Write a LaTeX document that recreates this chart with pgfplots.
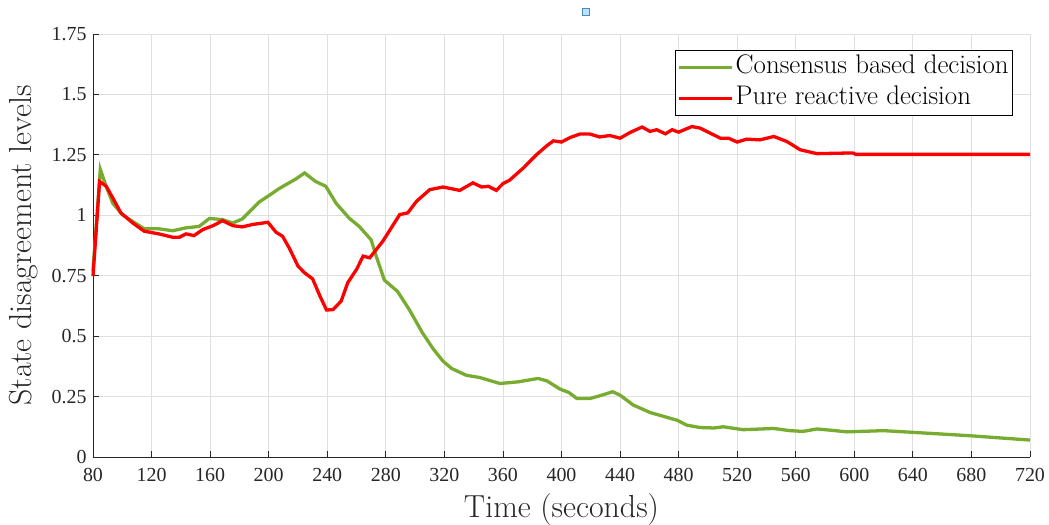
\documentclass[border=0pt]{standalone}
\usepackage{fontspec}
\usepackage{pgfplots}
\pgfplotsset{compat=1.18}
\newfontfamily\timesfont{Liberation Serif}
\definecolor{mgreen}{RGB}{119,172,48}
\definecolor{mgrid}{RGB}{223,223,223}
\definecolor{maxis}{RGB}{38,38,38}
\pgfplotstableread{
x y
80 0.77
85 1.19
89 1.12
93.5 1.05
100 1.003
107 0.975
115 0.944
125 0.944
134.5 0.936
143.5 0.948
152.5 0.954
159.5 0.987
168.5 0.982
175.5 0.968
182 0.985
193.5 1.055
200.5 1.083
207 1.11
218.5 1.15
224.5 1.175
232 1.14
239 1.12
246 1.05
255 0.988
262 0.953
270 0.898
273.5 0.83
279 0.732
288 0.685
296 0.61
305 0.514
312.5 0.446
319 0.397
325 0.366
335 0.338
344 0.329
358 0.304
370.5 0.311
384 0.325
390 0.315
399 0.281
405 0.267
410.5 0.242
419.5 0.242
426 0.253
435 0.27
440 0.256
449 0.215
460.5 0.184
472 0.164
479 0.152
485.5 0.132
494.5 0.122
504 0.12
510.5 0.125
524 0.113
545 0.118
556 0.109
565 0.106
574.5 0.116
583.5 0.111
595 0.104
620 0.109
640 0.102
679 0.088
720 0.07
}\consensus
\pgfplotstableread{
x y
80 0.748
84.5 1.14
89 1.12
93.5 1.072
99 1.01
107 0.969
115 0.934
125 0.923
134.5 0.909
139 0.909
143.5 0.923
149 0.916
155 0.941
162 0.957
168.5 0.978
175.5 0.957
182 0.952
189 0.962
199.5 0.971
205 0.93
209.5 0.913
214 0.865
220 0.79
224.5 0.762
230 0.737
235 0.666
239.5 0.608
244 0.61
249.5 0.645
254 0.721
260 0.776
264.5 0.831
269 0.824
278 0.893
289.5 1.003
295 1.01
301 1.058
310 1.106
319 1.117
330.5 1.103
339.5 1.134
345.5 1.117
350 1.12
355.5 1.103
360 1.131
364.5 1.145
374 1.196
383 1.251
390 1.288
394.5 1.308
400 1.303
406 1.322
412.5 1.336
419.5 1.336
426 1.324
433 1.33
440 1.319
447 1.343
455 1.365
460.5 1.347
465 1.354
471 1.337
475.5 1.354
480 1.344
489 1.367
494.5 1.361
501.5 1.34
508.5 1.319
514 1.319
520 1.303
526.5 1.315
535.5 1.312
545 1.326
554 1.305
563 1.271
574.5 1.255
599 1.258
601 1.252
720 1.252
}\reactive
\begin{document}
\begin{tikzpicture}
\useasboundingbox (-93bp,-68bp) rectangle (956bp,457bp);
\begin{axis}[
  scale only axis,
  clip=false,
  width=937bp, height=423bp,
  xmin=80, xmax=720, ymin=0, ymax=1.75,
  xtick={80,120,...,720},
  ytick={0,0.25,0.5,0.75,1,1.25,1.5,1.75},
  yticklabels={0,0.25,0.5,0.75,1,1.25,1.5,1.75},
  axis x line*=bottom, axis y line*=left,
  axis line style={maxis, line width=0.8bp, -},
  tick style={maxis, line width=0.8bp},
  tick align=inside,
  major tick length=6bp,
  grid=major,
  major grid style={mgrid, line width=0.8bp},
  /pgf/number format/assume math mode=true,
  ticklabel style={font=\timesfont\fontsize{20}{20}\selectfont, text=maxis},
  xticklabel style={yshift=-8bp},
  yticklabel style={xshift=-3bp},
  xlabel={Time (seconds)},
  ylabel={State disagreement levels},
  xlabel style={font=\fontsize{32}{34}\selectfont, text=maxis, at={(axis description cs:0.5,-0.1235)}, anchor=center},
  ylabel style={font=\fontsize{32}{34}\selectfont, text=maxis, at={(axis description cs:-0.0737,0.5)}, anchor=center},
  legend cell align=left,
  legend style={at={(axis description cs:1,1)}, anchor=north east, xshift=-17bp, yshift=-16bp,
    draw=black, line width=0.8bp, fill=white, font=\fontsize{27}{29}\selectfont,
    inner sep=2bp, row sep=1bp,
    nodes={inner sep=2bp, text depth=7bp, text height=19bp},
    /tikz/every even column/.append style={column sep=2bp}},
  legend image code/.code={\draw[#1, line width=3.3bp] (0bp,0bp) -- (53bp,0bp);},
]
\addplot[mgreen, line width=3.3bp] table[x=x,y=y] {\consensus};
\addlegendentry{Consensus based decision}
\addplot[red, line width=3.3bp] table[x=x,y=y] {\reactive};
\addlegendentry{Pure reactive decision}
\draw[draw={rgb,255:red,70;green,140;blue,200}, fill={rgb,255:red,190;green,225;blue,250}, line width=1bp]
  ([xshift=-3.5bp,yshift=18.5bp]rel axis cs:0.526,1) rectangle ([xshift=3.5bp,yshift=25.5bp]rel axis cs:0.526,1);
\end{axis}
\end{tikzpicture}
\end{document}
